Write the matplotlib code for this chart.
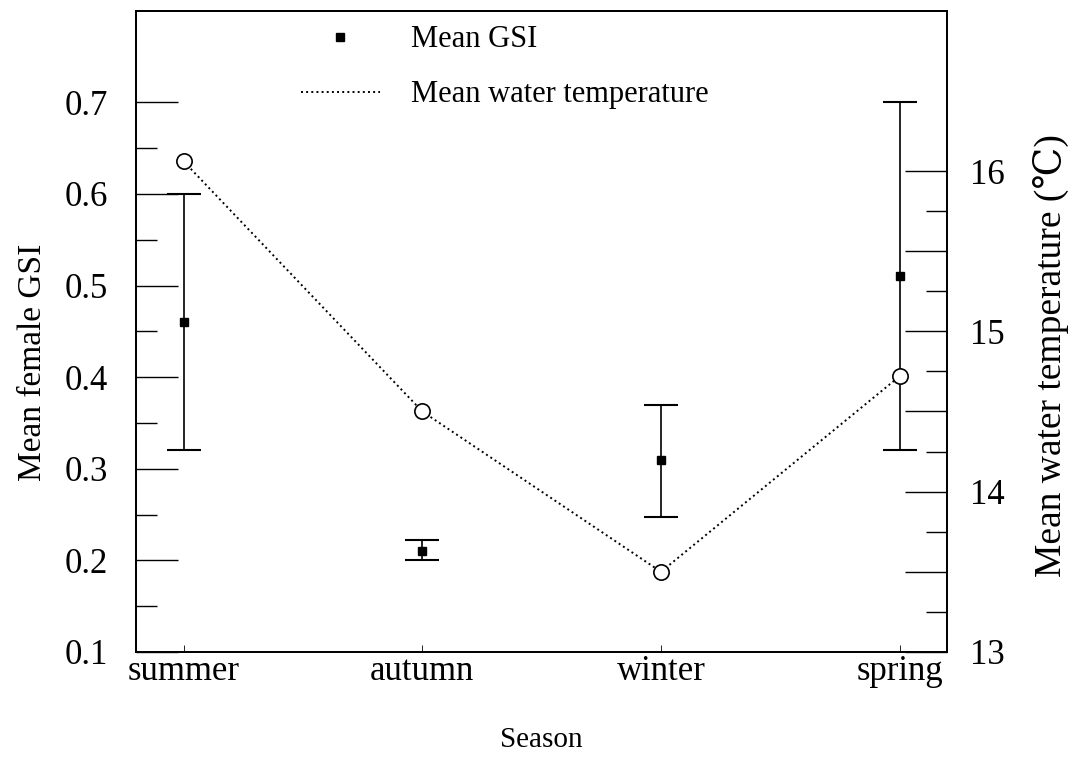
import numpy as np
import matplotlib
matplotlib.use('Agg')
import matplotlib.pyplot as plt
from matplotlib.lines import Line2D
from matplotlib.ticker import FixedLocator

plt.rcParams['font.family'] = ['Liberation Serif', 'DejaVu Serif', 'DejaVu Sans']

# --- data ---
seasons = ['summer', 'autumn', 'winter', 'spring']
gsi_mean = [0.46, 0.21, 0.31, 0.51]
gsi_low = [0.32, 0.20, 0.247, 0.32]
gsi_high = [0.60, 0.222, 0.37, 0.70]
water_temp = [16.06, 14.50, 13.50, 14.72]

gsi_ticks = [0.1, 0.2, 0.3, 0.4, 0.5, 0.6, 0.7]
temp_ticks = [13, 14, 15, 16]

x = np.arange(1, len(seasons) + 1)
yerr = [np.array(gsi_mean) - np.array(gsi_low), np.array(gsi_high) - np.array(gsi_mean)]

fig = plt.figure(figsize=(10.79, 7.67), dpi=100)
ax = fig.add_axes([0.126, 0.150, 0.752, 0.836])
ax2 = ax.twinx()

# GSI with error bars
ax.errorbar(x, gsi_mean, yerr=yerr, fmt='s', color='black', ms=6,
            ecolor='black', elinewidth=1.2, capsize=12, capthick=1.5, zorder=3)

# water temperature
ax2.plot(x, water_temp, linestyle=':', color='black', lw=1.4,
         marker='o', ms=11, mfc='white', mec='black', mew=1.2, zorder=2)

ax.set_xlim(0.8, 4.2)
ax.set_ylim(0.1, 0.8)
ax2.set_ylim(13, 17)

ax.set_xticks(x)
ax.set_xticklabels(seasons)
ax.set_yticks(gsi_ticks)
ax.yaxis.set_minor_locator(FixedLocator(np.arange(0.15, 0.7, 0.1)))

# long ticks every half degree (labelled on whole degrees), short every quarter
half = np.arange(13, 16.01, 0.5)
ax2.set_yticks(half)
ax2.set_yticklabels([f'{v:g}' if v in temp_ticks else '' for v in half])
ax2.yaxis.set_minor_locator(FixedLocator(np.arange(13.25, 16, 0.5)))

ax.tick_params(axis='y', which='major', direction='in', length=30, width=1, labelsize=25, pad=20)
ax.tick_params(axis='y', which='minor', direction='in', length=15, width=1)
ax.tick_params(axis='x', which='major', direction='in', length=5, width=0.6, labelsize=25, pad=2)
ax2.tick_params(axis='y', which='major', direction='in', length=30, width=1, labelsize=25, pad=16)
ax2.tick_params(axis='y', which='minor', direction='in', length=15, width=1)

for a in (ax, ax2):
    for s in a.spines.values():
        s.set_linewidth(1.3)

ax.set_ylabel('Mean female GSI', fontsize=24)
ax.yaxis.set_label_coords(-0.109, 0.452)
ax.set_xlabel('Season', fontsize=21, labelpad=28)
ax2.set_ylabel('Mean water temperature (℃)', fontsize=27)
ax2.yaxis.set_label_coords(1.106, 0.463)

handles = [Line2D([], [], marker='s', color='black', ls='none', ms=6),
           Line2D([], [], color='black', ls=':', lw=1.4)]
ax.legend(handles, ['Mean GSI', 'Mean water temperature'], frameon=False,
          fontsize=22, loc='upper left', bbox_to_anchor=(0.169, 1.02),
          handlelength=2.6, handletextpad=1.0, labelspacing=0.85)

fig.savefig('out.png', dpi=100)
